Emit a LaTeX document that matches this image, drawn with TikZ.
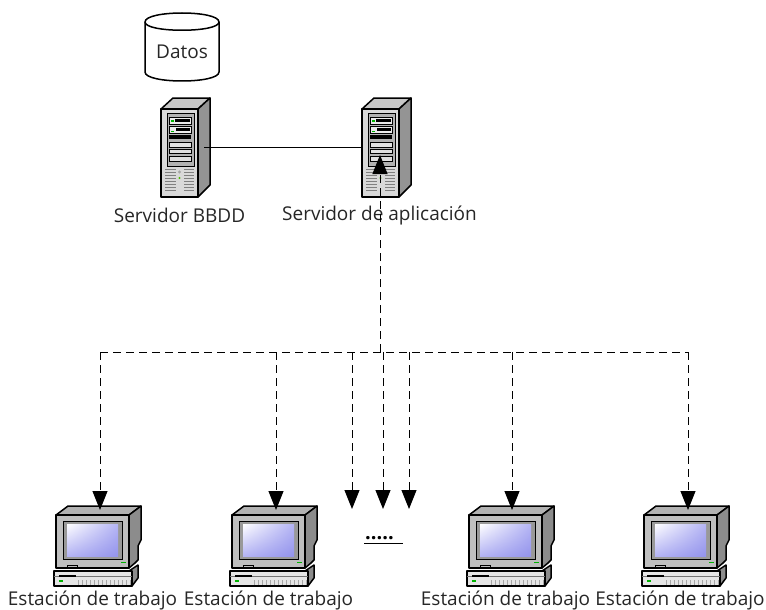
\documentclass[tikz,border=0pt]{standalone}
\usepackage{fontspec}
\setmainfont{Open Sans}
\usetikzlibrary{arrows.meta,shadings}
\definecolor{scr}{HTML}{B4B4F4}
\definecolor{scrd}{HTML}{9494EC}
\tikzset{
  outl/.style={draw=black,line width=1.5pt,line join=round},
  thin1/.style={draw=black,line width=.7pt},
  lab/.style={font=\fontsize{19}{21}\selectfont,inner sep=0pt,text=black!85},
  hit/.style={inner sep=0pt,outer sep=0pt,minimum width=43,minimum height=88},
  link/.style={draw=black,line width=1pt},
  dash1/.style={draw=black,line width=1pt,dash pattern=on 8pt off 5pt},
  arr/.style={-{Triangle[width=15pt,length=19pt]}},
  server/.pic={
    \fill[outl,fill=black!22] (161,109)--(173,98)--(210,98)--(198,109)--cycle;
    \fill[outl,fill=black!42] (198,109)--(210,98)--(210,185)--(198,197)--cycle;
    \fill[outl,fill=black!15] (161,109) rectangle (198,197);
    \fill[thin1,fill=black!30] (167,113) rectangle (194,166);
    \foreach \a/\b in {142/147,149/153,156/161}{\fill[thin1,fill=black!12] (169,\a) rectangle (191,\b);}
    \fill[black] (169,135) rectangle (191,139);
    \fill[thin1,fill=black!8] (169,117) rectangle (191,124);
    \fill[black] (175,119) rectangle (190,122);
    \fill[thin1,fill=black!8] (169,126) rectangle (191,133);
    \fill[black] (176,128) rectangle (190,131);
    \fill[green!70!black] (171,120) rectangle (174,121.5);
    \fill[green!70!black] (171,130.5) rectangle (174,132);
    \foreach \y in {169,172,...,192}{
      \draw[black!50,line width=.7pt] (165,\y)--(176,\y) (184,\y)--(194,\y);}
    \fill[black!35] (179.5,172) circle (1.6);
    \fill[green!60!black!70!yellow] (179.5,178) circle (1.2);
  },
  station/.pic={
    \fill[outl,fill=black!30] (56,515)--(68,506)--(141,506)--(129,515)--cycle;
    \fill[outl,fill=black!45] (129,515)--(141,506)--(141,540)--(138,546)--(138,560)--(135,563)--(129,568)--cycle;
    \fill[outl,fill=black!25] (56,515) rectangle (129,568);
    \fill[thin1,fill=black!40] (63,521) rectangle (122,559);
    \shade[upper left=white,upper right=scr,lower left=scr,lower right=scrd] (67,524) rectangle (118,556);
    \fill[green!70!black] (121,561.5) rectangle (126,563);
    \draw[thin1] (67,565)--(67,568) (77,565)--(77,568) (67,565)--(77,565);
    \fill[outl,fill=black!45] (129,571)--(138,565)--(138,578)--(132,586)--cycle;
    \fill[outl,fill=black!10] (54,571) rectangle (132,586);
    \fill[black!55] (54,575.5) rectangle (132,577);
    \fill[black] (59,574.5) rectangle (76,577);
    \fill[green!70!black] (59,580) rectangle (63,581.5);
    \foreach \x in {78,82,...,130}{\draw[black!35,line width=.8pt] (\x,580)--(\x,585);}
  },
}
\begin{document}
\begin{tikzpicture}[x=1pt,y=-1pt]
\useasboundingbox (0,0) rectangle (766,610);
% database
\fill[outl,fill=white] (145,22) -- (145,72) .. controls (145,84) and (219,84) .. (219,72) -- (219,22) .. controls (219,10) and (145,10) .. (145,22) -- cycle;
\draw[outl] (145,22) .. controls (145,33) and (219,33) .. (219,22);
\node[lab] (datos) at (182,52) {Datos};
% servers
\pic at (0,0) {server};
\pic at (201,0) {server};
\node[hit] (srvA) at (182.5,147) {};
\node[hit] (srvB) at (383.5,147) {};
\node[lab] (labA) at (179.5,215.5) {Servidor BBDD};
\node[lab] (labB) at (379.5,215.5) {Servidor de aplicación};
% stations
\foreach \d in {0,176,413,588}{\pic at (\d,0) {station};}
\node[lab] (e1) at (92.5,600.5) {Estación de trabajo};
\node[lab] (e2) at (268.5,600.5) {Estación de trabajo};
\node[lab] (e3) at (505.5,600.5) {Estación de trabajo};
\node[lab] (e4) at (680,600.5) {Estación de trabajo};
% dots
\node[inner sep=0pt,font=\fontsize{20}{22}\selectfont\bfseries] (dots) at (379.5,538.5) {.....};
\coordinate (uL) at (364,543.5); \coordinate (uR) at (403,543.5);
\draw[link] (uL) -- (uR);
% connectors
\draw[link] (srvA.east) -- (srvB.west);
\coordinate (bus) at (380,352);
\coordinate (tipS) at (380,155);
\coordinate (busL) at (100,352);
\coordinate (busR) at (688,352);
\draw[dash1] (busL) -- (busR);
\draw[dash1,arr] (bus) -- (tipS);
\foreach \n/\x/\t in {a/100/510,b/276/510,c/352/509,d/383/509,e/409/509,f/512/510,g/688/510}{
  \coordinate (top\n) at (\x,352);
  \coordinate (tip\n) at (\x,\t);
  \draw[dash1,arr] (top\n) -- (tip\n);
}
\end{tikzpicture}
\end{document}
